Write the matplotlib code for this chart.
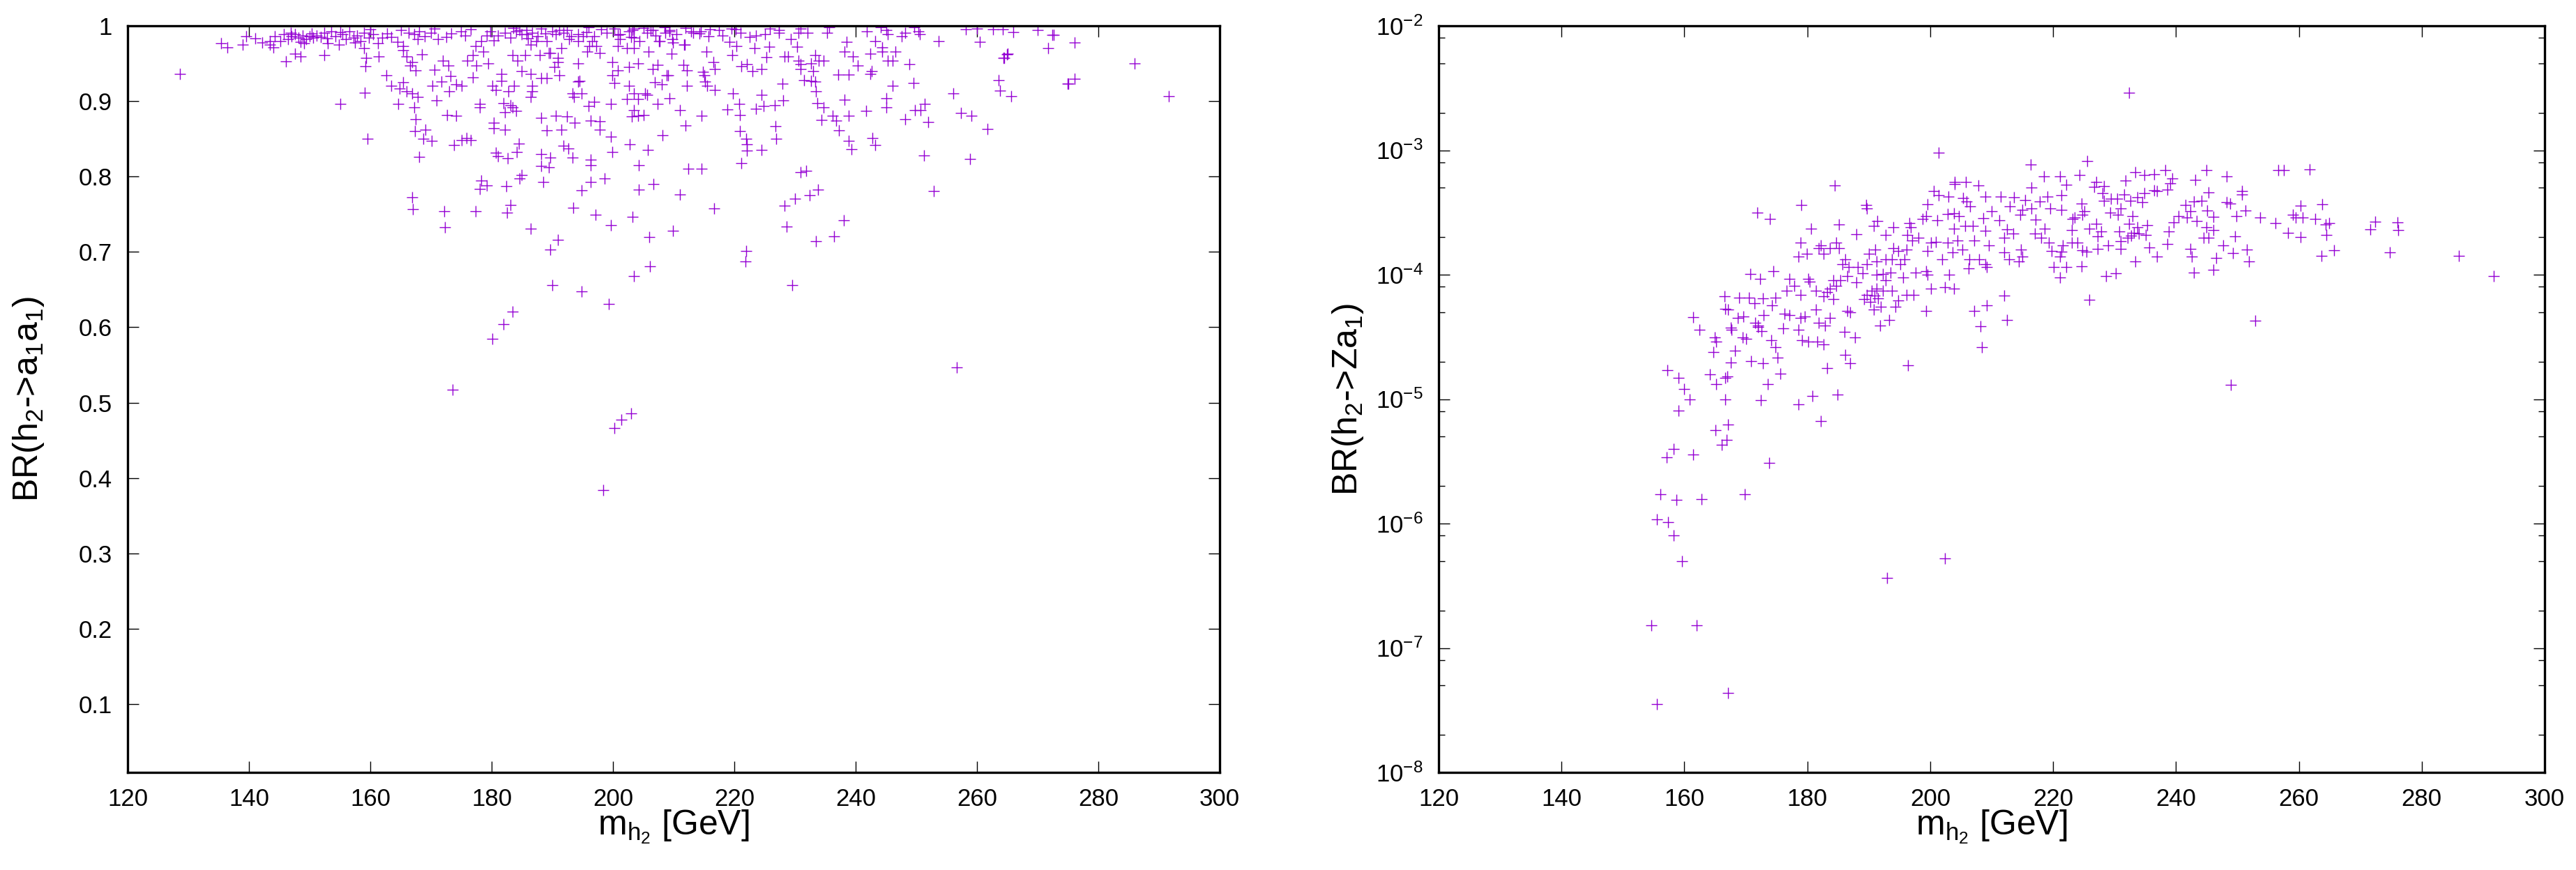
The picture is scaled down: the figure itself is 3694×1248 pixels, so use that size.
import matplotlib
matplotlib.use("Agg")
import matplotlib.pyplot as plt
from matplotlib.ticker import FixedLocator, FixedFormatter, LogLocator, NullFormatter
import numpy as np

plt.rcParams['font.family'] = ['Liberation Sans', 'DejaVu Sans']
plt.rcParams['mathtext.fontset'] = 'custom'
plt.rcParams['mathtext.rm'] = 'Liberation Sans'
plt.rcParams['mathtext.it'] = 'Liberation Sans'
plt.rcParams['mathtext.bf'] = 'Liberation Sans:bold'

# ---------------- Left panel data: (m_h2 [GeV], BR(h2->a1a1)) ----------------
left_band = [
    (139.5,0.986),(143.4,0.980),(144.3,0.986),(145.2,0.980),(145.8,0.989),(146.4,0.982),(147.0,0.986),
    (147.6,0.989),(148.2,0.984),(148.8,0.987),(149.1,0.977),(149.4,0.982),(150.0,0.986),(150.6,0.984),
    (151.2,0.987),(151.8,0.985),(152.4,0.991),(153.0,0.977),(153.6,0.993),(154.2,0.986),(154.8,0.975),
    (155.4,0.989),(156.0,0.982),(156.6,0.993),(157.2,0.984),(157.8,0.987),(158.4,0.980),(159.0,0.991),
    (159.8,0.984),(160.5,0.989),(161.3,0.977),(162.0,0.984),(162.8,0.990),(164.5,0.979),(165.4,0.973),
    (166.3,0.991),(167.2,0.989),(168.1,0.993),(169.0,0.986),(170.0,0.991),(171.1,0.982),(172.5,0.985),
    (174.9,0.993),(175.6,0.987),(177.4,0.973),(178.3,0.980),(179.2,0.987),(179.8,0.993),(181.0,0.987),
    (182.2,0.991),(183.1,0.984),(184.0,0.993),(184.9,0.989),(185.8,0.994),(186.7,0.991),(187.6,0.986),
    (188.2,0.996),(189.1,0.980),(190.0,0.993),(190.6,0.989),(191.2,0.994),(191.8,0.991),(192.4,0.994),
    (193.1,0.986),(194.2,0.989),(195.1,0.986),(196.0,0.998),(196.9,0.986),(199.0,0.991),(200.2,0.996),
    (201.1,0.982),(202.6,0.993),(203.5,0.996),(204.4,0.980),(205.6,0.991),(206.5,0.994),(207.6,0.980),
    (208.5,0.998),(209.3,0.993),(210.5,0.989),(211.8,0.975),(212.9,0.993),
    (141.0,0.983),(142.2,0.978),(146.9,0.991),(148.5,0.979),(150.3,0.990),(152.9,0.983),(155.0,0.992),
    (157.5,0.978),(160.0,0.995),(163.5,0.985),(165.0,0.994),(167.8,0.982),(170.6,0.996),(173.3,0.990),
    (176.5,0.995),(180.4,0.981),(183.6,0.997),(186.0,0.983),(188.9,0.990),(192.8,0.982),(195.6,0.992),
    (198.0,0.995),(200.8,0.988),(203.0,0.985),(205.0,0.997),(207.0,0.987),(209.8,0.982),(212.0,0.997),
    (214.2,0.990),(216.0,0.995),(218.0,0.987),(219.5,0.996),(221.0,0.991),(222.5,0.985),
]
left_high = [
    (223.6,0.987),(225.1,0.989),(225.9,0.996),(227.4,0.994),(227.4,0.991),(230.9,0.996),(230.6,0.991),
    (232.1,0.991),(235.3,0.991),(235.6,0.998),(241.8,0.993),(244.1,0.998),(245.3,0.989),(245.0,0.994),
    (247.6,0.986),(248.2,0.991),(249.7,0.998),(250.3,0.993),(250.6,0.989),(258.2,0.995),(260.0,0.996),
    (262.6,0.995),(264.3,0.995),(260.5,0.979),(253.7,0.980),(215.7,0.986),(214.5,0.993),(217.5,0.994),
    (220.2,0.995),(272.4,0.988),(276.1,0.978),(271.7,0.970),(270.0,0.994),(266.0,0.992),
]
left_mid1 = [
    (128.6,0.936),(135.4,0.977),(136.4,0.971),(139.0,0.975),(143.4,0.975),(144.0,0.971),(146.1,0.953),
    (147.6,0.963),(148.5,0.959),(152.4,0.961),(155.1,0.896),(159.0,0.970),(159.3,0.957),(159.2,0.946),
    (159.1,0.911),(159.5,0.850),(161.4,0.959),(162.6,0.934),(163.4,0.920),(164.6,0.896),(164.8,0.917),
    (165.4,0.925),(166.0,0.913),(166.9,0.910),(167.8,0.906),(167.2,0.892),(165.4,0.968),(166.0,0.959),
    (166.9,0.952),(167.5,0.941),(168.5,0.962),(166.5,0.947),(167.5,0.876),(167.3,0.860),(169.1,0.862),
    (168.7,0.850),(170.1,0.847),(168.0,0.826),(166.9,0.772),(167.0,0.757),(172.2,0.754),(172.3,0.733),
    (177.3,0.754),(173.6,0.517),(170.9,0.901),(170.2,0.920),(171.7,0.926),(173.0,0.913),(174.1,0.922),
    (175.0,0.920),(170.6,0.942),(172.0,0.954),(172.9,0.947),(173.2,0.933),(172.6,0.882),(174.1,0.881),
    (173.8,0.842),(175.0,0.848),(175.9,0.851),(176.5,0.848),(176.0,0.954),(176.9,0.961),(177.5,0.947),
    (178.6,0.966),(179.4,0.950),(176.9,0.932),(178.1,0.896),(178.1,0.892),(178.3,0.795),(178.1,0.784),
    (179.2,0.788),
]
left_mid2 = [
    (180.1,0.585),(181.9,0.604),(183.4,0.621),(182.5,0.752),(183.1,0.762),(182.4,0.787),(180.4,0.871),
    (180.3,0.864),(182.2,0.862),(180.7,0.832),(181.0,0.827),(182.7,0.824),(184.1,0.833),(184.5,0.844),
    (180.1,0.920),(180.7,0.915),(181.6,0.936),(181.6,0.927),(182.8,0.913),(183.7,0.920),(181.9,0.897),
    (183.1,0.895),(183.5,0.892),(184.0,0.887),(182.2,0.885),(184.9,0.802),(184.6,0.797),(188.5,0.793),
    (186.4,0.731),(189.7,0.703),(190.9,0.716),(190.0,0.656),(194.8,0.648),(199.3,0.631),(203.4,0.668),
    (206.1,0.681),(206.0,0.720),(209.9,0.728),(211.0,0.776),(206.7,0.790),(204.3,0.783),(203.2,0.747),
    (199.6,0.735),(197.1,0.749),(193.4,0.759),(198.6,0.797),(196.3,0.793),(194.8,0.782),(188.2,0.830),
    (189.7,0.825),(188.2,0.814),(189.4,0.812),(193.3,0.825),(192.7,0.837),(191.8,0.841),(196.3,0.822),
    (196.3,0.815),(199.9,0.833),(199.6,0.853),(197.8,0.873),(196.3,0.874),(197.8,0.862),(193.7,0.871),
    (192.4,0.880),(191.5,0.862),(190.6,0.881),(189.1,0.861),(188.2,0.878),(202.8,0.843),(205.7,0.835),
    (204.3,0.815),(208.2,0.855),(212.0,0.868),(211.0,0.888),(212.4,0.810),
    (198.4,0.384),(200.2,0.466),(201.4,0.477),(203.0,0.486),
]
left_mid3 = [
    (203.1,0.880),(204.1,0.881),(205.0,0.882),(203.5,0.888),(207.4,0.896),(209.3,0.904),(205.6,0.908),
    (204.1,0.903),(202.3,0.903),(199.6,0.896),(196.9,0.899),(196.0,0.894),(194.5,0.927),(194.2,0.926),
    (193.3,0.910),(193.6,0.906),(194.8,0.910),(199.9,0.952),(200.8,0.941),(202.6,0.945),(204.1,0.950),
    (206.5,0.943),(207.4,0.948),(212.2,0.941),(211.6,0.948),(209.1,0.934),(208.0,0.922),(212.2,0.920),
    (206.9,0.925),(208.9,0.934),(199.9,0.934),(200.2,0.924),(202.6,0.920),(203.5,0.910),(205.3,0.910),
    (190.9,0.952),(191.2,0.934),(190.3,0.945),(189.4,0.964),(190.9,0.957),(191.5,0.970),(194.2,0.950),
    (196.1,0.973),(197.2,0.973),(197.8,0.964),(194.2,0.980),(196.6,0.980),(195.7,0.966),(183.4,0.961),
    (184.3,0.954),(184.9,0.940),(185.5,0.961),(186.4,0.936),(186.7,0.920),(186.4,0.906),(186.7,0.913),
    (186.4,0.975),(187.9,0.961),(188.2,0.931),(189.1,0.931),(189.7,0.964),(187.3,0.980),(185.8,0.989),
    (184.6,0.994),(201.1,0.989),(203.2,0.994),(203.5,0.984),(206.2,0.994),(207.7,0.980),(208.6,0.991),
    (209.3,0.994),(209.9,0.978),(211.7,0.975),(213.2,0.991),(200.8,0.973),(203.5,0.970),(205.9,0.966),
    (209.6,0.963),(202.3,0.970),
]
left_right = [
    (214.6,0.881),(214.6,0.810),(216.7,0.758),(222.0,0.701),(221.8,0.687),(221.1,0.818),(220.9,0.860),
    (221.9,0.850),(222.1,0.843),(222.1,0.834),(224.5,0.835),(226.9,0.850),(226.8,0.867),(228.3,0.761),
    (230.0,0.771),(232.4,0.775),(233.8,0.783),(228.6,0.734),(229.5,0.656),(230.9,0.806),(231.8,0.808),
    (233.4,0.714),(236.4,0.721),(238.1,0.742),(256.7,0.547),(252.9,0.781),(251.3,0.828),(258.8,0.823),
    (261.7,0.863),(257.4,0.884),(259.1,0.881),(256.1,0.910),(263.8,0.914),(263.6,0.928),(265.6,0.907),
    (264.4,0.957),(265.1,0.963),(274.9,0.923),(276.1,0.930),(286.0,0.950),(291.6,0.907),(248.9,0.949),
    (249.5,0.924),(246.1,0.920),(248.2,0.876),(249.8,0.888),(250.7,0.888),(251.4,0.896),(251.9,0.872),
    (245.0,0.904),(245.0,0.892),(242.8,0.851),(243.2,0.842),(239.3,0.836),(238.8,0.847),(241.7,0.887),
    (238.8,0.881),(238.2,0.902),(237.2,0.861),(236.8,0.874),(236.2,0.881),(234.7,0.892),(234.4,0.875),
    (233.7,0.897),(233.4,0.913),(233.3,0.926),(232.7,0.927),(233.0,0.940),(231.5,0.928),(228.0,0.901),
    (226.7,0.895),(224.8,0.894),(224.5,0.908),(223.6,0.890),(220.8,0.896),(220.9,0.882),(218.9,0.889),
    (219.8,0.910),(216.8,0.915),(215.5,0.920),(215.2,0.926),(215.1,0.934),(214.8,0.939),(227.9,0.923),
    (238.8,0.935),(237.1,0.935),(242.6,0.940),(242.4,0.936),(240.4,0.947),(239.5,0.959),(238.2,0.966),
    (238.5,0.979),(242.4,0.963),(243.2,0.980),(244.4,0.966),(244.4,0.971),(245.3,0.954),(246.1,0.954),
    (246.5,0.966),(233.3,0.961),(233.9,0.954),(234.7,0.954),(230.3,0.972),(229.3,0.982),(230.9,0.949),
    (230.9,0.943),(232.7,0.950),(230.6,0.954),(228.3,0.959),(228.9,0.959),(225.3,0.958),(225.8,0.972),
    (223.3,0.970),(222.1,0.949),(221.2,0.946),(223.0,0.940),(224.5,0.943),(219.6,0.961),(220.4,0.973),
    (219.2,0.979),(215.4,0.966),(216.6,0.952),(216.8,0.943),(264.9,0.962),(264.5,0.957),(275.0,0.923),
    (272.6,0.988),
]

# ---------------- Right panel data: (m_h2 [GeV], log10 BR(h2->Za1)) ----------------
right_low = [
    (182.2,-5.178),(167.1,-5.206),(165.1,-5.252),(166.9,-5.326),(166.1,-5.369),(158.2,-5.401),(157.1,-5.466),
    (161.4,-5.447),(173.8,-5.514),(156.1,-5.762),(158.7,-5.809),(162.8,-5.803),(169.8,-5.766),(155.5,-5.967),
    (157.3,-5.991),(158.2,-6.093),(159.6,-6.301),(202.4,-6.282),(193.0,-6.438),(154.6,-6.820),(162.0,-6.820),
    (167.1,-7.362),(155.5,-7.451),
]
right_mid = [
    (157.2,-4.767),(159.0,-4.831),(160.0,-4.917),(160.9,-5.002),(159.0,-5.090),(164.2,-4.799),(165.2,-4.880),
    (166.7,-4.831),(167.0,-4.816),(166.6,-5.002),(162.4,-4.441),(161.4,-4.339),(164.7,-4.624),(165.2,-4.538),
    (164.9,-4.506),(166.6,-4.277),(167.1,-4.281),(166.5,-4.174),(168.7,-4.345),(169.6,-4.334),(171.5,-4.384),
    (172.0,-4.409),(172.9,-4.324),(171.4,-4.227),(172.8,-4.191),(174.3,-4.249),(174.8,-4.185),(170.7,-3.996),
    (172.3,-4.035),(174.5,-3.970),(168.9,-4.185),(170.5,-4.185),(167.5,-4.705),(168.2,-4.613),(167.7,-4.441),
    (167.5,-4.426),(169.5,-4.506),(170.0,-4.516),(170.8,-4.692),(172.5,-4.452),(172.0,-4.420),(172.8,-4.709),
    (174.1,-4.527),(174.8,-4.581),(175.2,-4.666),(175.6,-4.795),(173.6,-4.880),(172.4,-5.009),(178.6,-5.041),
    (180.8,-4.977),(184.9,-4.966),(183.2,-4.752),(186.2,-4.645),(187.0,-4.709),(187.7,-4.506),(186.1,-4.459),
    (186.5,-4.292),(187.0,-4.302),(196.4,-4.730),(171.9,-3.499),(173.9,-3.553),
]
right_cloud1 = [
    (176.3,-4.313),(177.1,-4.324),(176.1,-4.431),(178.9,-4.345),(179.6,-4.334),(178.6,-4.441),(181.4,-4.281),
    (181.9,-4.388),(182.9,-4.409),(183.7,-4.345),(181.6,-4.538),(182.7,-4.559),(180.1,-4.538),(179.1,-4.527),
    (176.6,-4.131),(177.1,-4.035),(177.9,-4.088),(178.9,-4.163),(180.1,-4.035),(180.4,-4.056),(181.4,-4.131),
    (182.6,-4.174),(183.7,-4.110),(184.7,-4.088),(185.4,-4.045),(184.2,-4.045),(183.2,-4.142),(184.2,-4.195),
    (178.6,-3.852),(179.9,-3.831),(181.9,-3.788),(178.9,-3.745),(179.0,-3.441),(180.6,-3.628),(185.2,-3.596),
    (188.0,-3.677),(184.5,-3.285),(189.6,-3.441),(189.7,-3.467),(191.4,-3.568),(190.8,-3.606),(194.0,-3.617),
    (192.8,-3.681),(196.1,-3.799),(194.8,-3.810),(194.0,-3.788),(195.8,-3.874),(193.8,-3.874),(195.1,-3.917),
    (192.8,-3.874),(191.0,-3.799),(191.3,-3.895),(190.0,-3.831),(189.7,-3.917),(188.2,-3.938),(186.7,-3.938),
    (185.7,-3.917),(186.2,-3.874),(185.2,-3.788),(183.7,-3.788),(182.7,-3.831),(182.2,-3.767),(184.7,-3.745),
    (186.5,-4.010),(188.0,-4.060),(189.0,-3.990),(191.3,-4.000),(190.9,-4.170),(191.5,-4.190),
]
right_cloud2 = [
    (195.6,-4.024),(193.5,-3.981),(192.3,-3.992),(192.8,-4.045),(191.3,-4.110),(190.5,-4.131),(189.7,-4.163),
    (189.2,-4.195),(190.2,-4.217),(194.8,-4.206),(196.1,-4.163),(197.3,-4.163),(193.8,-4.131),(192.3,-4.131),
    (194.3,-4.259),(190.8,-4.281),(192.0,-4.259),(191.8,-4.409),(193.3,-4.366),(199.3,-4.292),(212.0,-4.170),
    (209.2,-4.249),(207.2,-4.292),(212.5,-4.366),(208.2,-4.414),(208.4,-4.581),(197.6,-3.985),(199.6,-3.998),
    (200.1,-4.112),(202.4,-4.099),(203.9,-4.110),(203.1,-4.002),(199.3,-3.970),(206.2,-3.949),(208.0,-3.874),
    (209.0,-3.917),(209.2,-3.938),(206.4,-3.874),(212.0,-3.820),(212.8,-3.874),(214.4,-3.895),(215.0,-3.853),
    (214.8,-3.799),(218.1,-3.703),(219.3,-3.745),(220.1,-3.938),(217.0,-3.671),(218.6,-3.628),(219.8,-3.810),
    (200.1,-3.745),(200.9,-3.735),(199.6,-3.810),(202.9,-3.745),(203.6,-3.820),(205.2,-3.799),(201.9,-3.874),
]
right_upper = [
    (201.4,-3.017),(216.4,-3.114),(218.5,-3.210),(207.9,-3.285),(216.5,-3.302),(219.1,-3.371),(204.0,-3.274),
    (204.0,-3.253),(205.8,-3.257),(200.6,-3.328),(201.4,-3.360),(203.0,-3.371),(205.4,-3.381),(205.9,-3.414),
    (209.0,-3.371),(211.5,-3.371),(213.6,-3.378),(215.5,-3.403),(217.8,-3.414),(216.5,-3.467),(215.0,-3.478),
    (196.6,-3.585),(196.8,-3.617),(196.3,-3.681),(197.1,-3.724),(198.1,-3.703),(198.8,-3.553),(199.3,-3.531),
    (199.6,-3.435),(201.1,-3.563),(202.9,-3.510),(203.9,-3.506),(204.7,-3.531),(203.9,-3.628),(204.4,-3.724),
    (205.7,-3.606),(206.9,-3.606),(209.0,-3.649),(207.2,-3.724),(209.5,-3.767),(212.0,-3.703),(213.5,-3.671),
    (212.5,-3.638),(210.0,-3.489),(211.2,-3.563),(213.0,-3.450),(214.6,-3.520),(217.2,-3.560),(219.5,-3.470),
    (206.5,-3.450),(208.6,-3.545),
]
right_far = [
    (232.4,-2.537),(225.5,-3.085),(224.3,-3.197),(221.1,-3.212),(222.2,-3.279),(221.3,-3.362),(221.3,-3.479),
    (224.6,-3.429),(225.1,-3.492),(224.8,-3.517),(223.5,-3.542),(223.2,-3.554),(223.0,-3.642),
    (226.7,-3.292),(227.0,-3.254),(228.3,-3.287),(228.1,-3.347),(228.3,-3.404),(229.4,-3.392),(230.4,-3.392),
    (229.3,-3.504),(230.5,-3.517),(231.0,-3.467),(231.6,-3.354),(231.8,-3.242),(233.4,-3.179),(234.8,-3.199),
    (236.4,-3.192),(238.3,-3.162),(239.4,-3.229),(239.1,-3.267),(238.6,-3.317),(236.9,-3.329),(236.4,-3.322),
    (234.8,-3.347),(234.5,-3.417),(233.7,-3.379),(232.6,-3.404),(232.9,-3.529),(232.4,-3.592),(233.7,-3.617),
    (235.3,-3.604),(235.1,-3.679),(234.0,-3.672),(233.2,-3.662),(232.7,-3.687),(232.1,-3.704),(230.8,-3.654),
    (231.0,-3.729),(231.0,-3.791),(228.9,-3.767),(227.3,-3.791),(227.8,-3.654),(227.3,-3.692),(225.9,-3.629),
    (227.0,-3.592),(225.4,-3.816),(224.8,-3.804),(224.0,-3.742),(223.0,-3.742),(221.6,-3.767),(221.3,-3.816),
    (221.1,-3.854),(222.2,-3.941),(221.1,-4.021),(224.6,-3.934),(228.6,-4.011),(230.2,-3.991),(225.9,-4.199),
    (233.4,-3.896),(236.9,-3.854),(235.6,-3.779),(238.6,-3.754),(238.8,-3.654),(239.6,-3.579),(240.4,-3.529),
    (241.8,-3.542),(242.3,-3.492),(241.5,-3.442),(243.4,-3.567),(242.9,-3.412),(244.2,-3.404),(243.1,-3.237),
    (245.0,-3.162),(245.3,-3.337),(245.1,-3.487),(246.1,-3.537),(245.0,-3.617),(246.1,-3.642),(244.5,-3.704),
    (245.3,-3.704),(247.7,-3.767),(242.3,-3.791),(242.6,-3.854),(242.9,-3.984),(246.1,-3.961),(246.6,-3.866),
    (249.3,-3.829),(249.6,-3.692),(251.5,-3.796),(251.9,-3.891),(249.8,-3.529),(250.7,-3.354),(250.7,-3.329),
    (251.3,-3.487),(248.8,-3.429),(248.2,-3.417),(248.3,-3.212),(253.7,-3.542),(256.2,-3.587),(256.7,-3.162),
    (257.6,-3.162),(261.7,-3.154),(260.3,-3.447),(259.0,-3.517),(259.5,-3.542),(260.6,-3.542),(262.7,-3.554),
    (263.8,-3.434),(264.9,-3.584),(264.4,-3.597),(264.5,-3.679),(258.2,-3.662),(260.3,-3.697),(263.7,-3.846),
    (265.7,-3.804),(271.6,-3.637),(272.4,-3.572),(276.1,-3.579),(276.2,-3.642),(274.8,-3.821),(286.0,-3.849),
    (291.7,-4.009),(252.9,-4.371),(248.9,-4.883),
]

x_ticks = [120, 140, 160, 180, 200, 220, 240, 260, 280, 300]
left_yticks = [0.1, 0.2, 0.3, 0.4, 0.5, 0.6, 0.7, 0.8, 0.9, 1.0]
left_ylabels = ['0.1', '0.2', '0.3', '0.4', '0.5', '0.6', '0.7', '0.8', '0.9', '1']
right_exponents = [-8, -7, -6, -5, -4, -3, -2]

COLOR = '#9400d3'

left_pts = left_band + left_high + left_mid1 + left_mid2 + left_mid3 + left_right
right_pts = right_low + right_mid + right_cloud1 + right_cloud2 + right_upper + right_far
lx = np.array([p[0] for p in left_pts]); ly = np.array([p[1] for p in left_pts])
rx = np.array([p[0] for p in right_pts]); ry = 10.0 ** np.array([p[1] for p in right_pts])

W, H = 3694, 1248
fig = plt.figure(figsize=(W / 100, H / 100), dpi=100)
axL = fig.add_axes([183 / W, 140 / H, 1566 / W, 1071 / H])
axR = fig.add_axes([2063 / W, 140 / H, 1586 / W, 1071 / H])

for ax in (axL, axR):
    for s in ax.spines.values():
        s.set_linewidth(2.4)
    ax.tick_params(which='both', direction='in', top=True, right=True,
                   labelsize=25, pad=16, width=1.0)
    ax.tick_params(which='major', length=11.5)
    ax.tick_params(which='minor', length=6.5)
    ax.set_xlim(120, 300)
    ax.xaxis.set_major_locator(FixedLocator(x_ticks))
    ax.set_xticklabels([str(t) for t in x_ticks])
    ax.set_xlabel(r'm$_{h_2}$ [GeV]', fontsize=36)
    ax.xaxis.set_label_coords(0.5, -0.048)
    ax.xaxis.label.set_verticalalignment('top')

axL.plot(lx, ly, linestyle='none', marker='+', markersize=12, markeredgewidth=1.0, color=COLOR)
axL.set_ylim(0.0093, 1.0)
axL.yaxis.set_major_locator(FixedLocator(left_yticks))
axL.yaxis.set_major_formatter(FixedFormatter(left_ylabels))
axL.set_ylabel(r'BR(h$_2$->a$_1$a$_1$)', fontsize=36)
axL.yaxis.set_label_coords(-0.075, 0.5)

axR.plot(rx, ry, linestyle='none', marker='+', markersize=12, markeredgewidth=1.0, color=COLOR)
axR.set_yscale('log')
axR.set_ylim(1e-8, 1e-2)
axR.yaxis.set_major_locator(FixedLocator([10.0 ** e for e in right_exponents]))
axR.yaxis.set_major_formatter(FixedFormatter([r'$10^{%d}$' % e for e in right_exponents]))
axR.yaxis.set_minor_locator(LogLocator(base=10, subs=[2, 5, 8]))
axR.yaxis.set_minor_formatter(NullFormatter())
axR.set_ylabel(r'BR(h$_2$->Za$_1$)', fontsize=36)
axR.yaxis.set_label_coords(-0.066, 0.5)

fig.savefig('out.png', dpi=100)
